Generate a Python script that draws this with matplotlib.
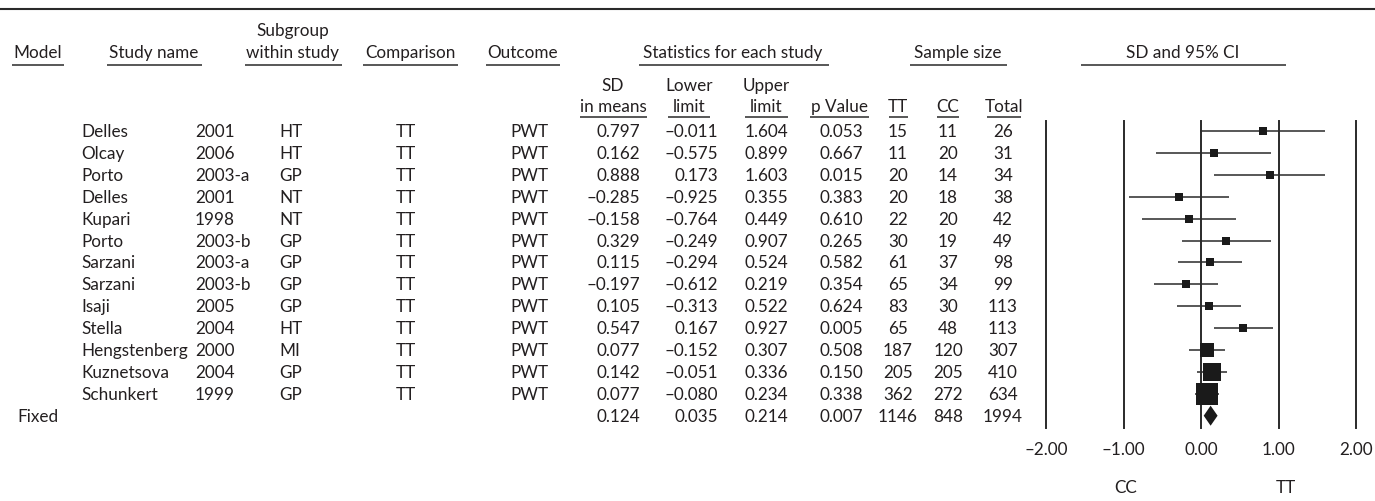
import numpy as np
import matplotlib
matplotlib.use("Agg")
import matplotlib.pyplot as plt
from matplotlib.patches import Polygon

# ---------------- data ----------------
study_names = ["Delles", "Olcay", "Porto", "Delles", "Kupari", "Porto", "Sarzani",
               "Sarzani", "Isaji", "Stella", "Hengstenberg", "Kuznetsova", "Schunkert"]
study_years = ["2001", "2006", "2003-a", "2001", "1998", "2003-b", "2003-a",
               "2003-b", "2005", "2004", "2000", "2004", "1999"]
subgroups = ["HT", "HT", "GP", "NT", "NT", "GP", "GP", "GP", "GP", "HT", "MI", "GP", "GP"]
comparison = ["TT"] * 13
outcome = ["PWT"] * 13
sd_means = [0.797, 0.162, 0.888, -0.285, -0.158, 0.329, 0.115, -0.197, 0.105, 0.547, 0.077, 0.142, 0.077]
lower_limit = [-0.011, -0.575, 0.173, -0.925, -0.764, -0.249, -0.294, -0.612, -0.313, 0.167, -0.152, -0.051, -0.080]
upper_limit = [1.604, 0.899, 1.603, 0.355, 0.449, 0.907, 0.524, 0.219, 0.522, 0.927, 0.307, 0.336, 0.234]
p_values = [0.053, 0.667, 0.015, 0.383, 0.610, 0.265, 0.582, 0.354, 0.624, 0.005, 0.508, 0.150, 0.338]
n_tt = [15, 11, 20, 20, 22, 30, 61, 65, 83, 65, 187, 205, 362]
n_cc = [11, 20, 14, 18, 20, 19, 37, 34, 30, 48, 120, 205, 272]
n_total = [26, 31, 34, 38, 42, 49, 98, 99, 113, 113, 307, 410, 634]

fixed_label = "Fixed"
fixed_sd, fixed_lower, fixed_upper, fixed_p = 0.124, 0.035, 0.214, 0.007
fixed_tt, fixed_cc, fixed_total = 1146, 848, 1994

axis_ticks = [-2.0, -1.0, 0.0, 1.0, 2.0]
side_labels = ["CC", "TT"]

# ---------------- style ----------------
plt.rcParams['font.family'] = ['Lato', 'DejaVu Sans']
TXT = '#231f20'
LINE = '#2a2a2a'
FS = 12.3

W, H = 1375, 501
fig = plt.figure(figsize=(W / 100, H / 100), dpi=100)
ax = fig.add_axes([0, 0, 1, 1])
ax.set_xlim(0, W)
ax.set_ylim(H, 0)
ax.axis('off')

ROW0, DY = 131.0, 21.9
BASE = 6.0


def row_y(i):
    return ROW0 + DY * i


def fmt(v):
    s = f"{abs(v):.3f}"
    return ("\u2013" + s) if v < 0 else s


def t(x, y, s, ha='left'):
    ax.text(x, y, s, ha=ha, va='baseline', fontsize=FS, color=TXT)


# top rule
ax.plot([0, W], [9, 9], color=LINE, lw=1.5, solid_capstyle='butt')

# headers (level 1)
headers = [
    (38, ["Model"], 12, 64),
    (154, ["Study name"], 107, 202),
    (293, ["Subgroup", "within study"], 245, 342),
    (410, ["Comparison"], 363, 458),
    (523, ["Outcome"], 486, 560),
    (733, ["Statistics for each study"], 639, 829),
    (958, ["Sample size"], 910, 1007),
    (1183, ["SD and 95% CI"], 1081, 1286),
]
for cx, lines, x0, x1 in headers:
    n = len(lines)
    for k, s in enumerate(lines):
        t(cx, 58 - (n - 1 - k) * 22, s, ha='center')
    ax.plot([x0, x1], [65, 65], color=LINE, lw=1.1, solid_capstyle='butt')

# sub headers
subs = [
    (613, ["SD", "in means"], 580, 647),
    (689, ["Lower", "limit"], 668, 710),
    (766, ["Upper", "limit"], 745, 788),
    (840, ["p Value"], 810, 869),
    (898, ["TT"], 889, 908),
    (948, ["CC"], 937, 959),
    (1004, ["Total"], 987, 1021),
]
for cx, lines, x0, x1 in subs:
    n = len(lines)
    for k, s in enumerate(lines):
        t(cx, 112 - (n - 1 - k) * 21, s, ha='center')
    ax.plot([x0, x1], [117, 117], color=LINE, lw=1.1, solid_capstyle='butt')

# rows
for i in range(len(study_names)):
    y = row_y(i) + BASE
    t(81, y, study_names[i])
    t(195, y, study_years[i])
    t(279, y, subgroups[i])
    t(406, y, comparison[i], ha='center')
    t(510, y, outcome[i])
    t(640, y, fmt(sd_means[i]), ha='right')
    t(718, y, fmt(lower_limit[i]), ha='right')
    t(788, y, fmt(upper_limit[i]), ha='right')
    t(863, y, f"{p_values[i]:.3f}", ha='right')
    t(898, y, str(n_tt[i]), ha='center')
    t(948, y, str(n_cc[i]), ha='center')
    t(1003, y, str(n_total[i]), ha='center')

nf = len(study_names)
y = row_y(nf) + BASE
t(17, y, fixed_label)
t(640, y, fmt(fixed_sd), ha='right')
t(718, y, fmt(fixed_lower), ha='right')
t(788, y, fmt(fixed_upper), ha='right')
t(863, y, f"{fixed_p:.3f}", ha='right')
t(898, y, str(fixed_tt), ha='center')
t(948, y, str(fixed_cc), ha='center')
t(1003, y, str(fixed_total), ha='center')

# ---------------- forest plot ----------------
FX0, FX1, FY0, FY1 = 1046, 1356, 121, 428
fax = fig.add_axes([FX0 / W, 1 - FY1 / H, (FX1 - FX0) / W, (FY1 - FY0) / H])
fax.set_xlim(axis_ticks[0], axis_ticks[-1])
fax.set_ylim(FY1, FY0)
for sp in fax.spines.values():
    sp.set_visible(False)
fax.patch.set_alpha(0)
fax.set_yticks([])
fax.set_xticks(axis_ticks)
fax.set_xticklabels([("\u2013" if v < 0 else "") + f"{abs(v):.2f}" for v in axis_ticks])
fax.tick_params(axis='x', length=0, pad=10, labelsize=FS, labelcolor=TXT)
for v in axis_ticks:
    fax.axvline(v, color=LINE, lw=1.4, clip_on=False)

px_per_pt = 100 / 72
for i in range(nf):
    yy = row_y(i)
    fax.plot([lower_limit[i], upper_limit[i]], [yy, yy], color=LINE, lw=1.1, solid_capstyle='butt')
    se = (upper_limit[i] - lower_limit[i]) / 3.92
    side_px = max(7.5, 1.7 * np.sqrt(1 / se ** 2))
    fax.plot([sd_means[i]], [yy], marker='s', markersize=side_px / px_per_pt,
             color='#1a1a1a', markeredgewidth=0, linestyle='none', zorder=3)

yf = row_y(nf)
dh = 10
fax.add_patch(Polygon([[fixed_lower, yf], [fixed_sd, yf - dh], [fixed_upper, yf], [fixed_sd, yf + dh]],
                      closed=True, facecolor='#1a1a1a', edgecolor='none', zorder=3, clip_on=False))

side_x = [-0.97, 1.1]
for xv, lab in zip(side_x, side_labels):
    fax.text(xv, 487 + 6, lab, ha='center', va='baseline', fontsize=FS, color=TXT, clip_on=False)

fig.savefig("out.png", dpi=100)
